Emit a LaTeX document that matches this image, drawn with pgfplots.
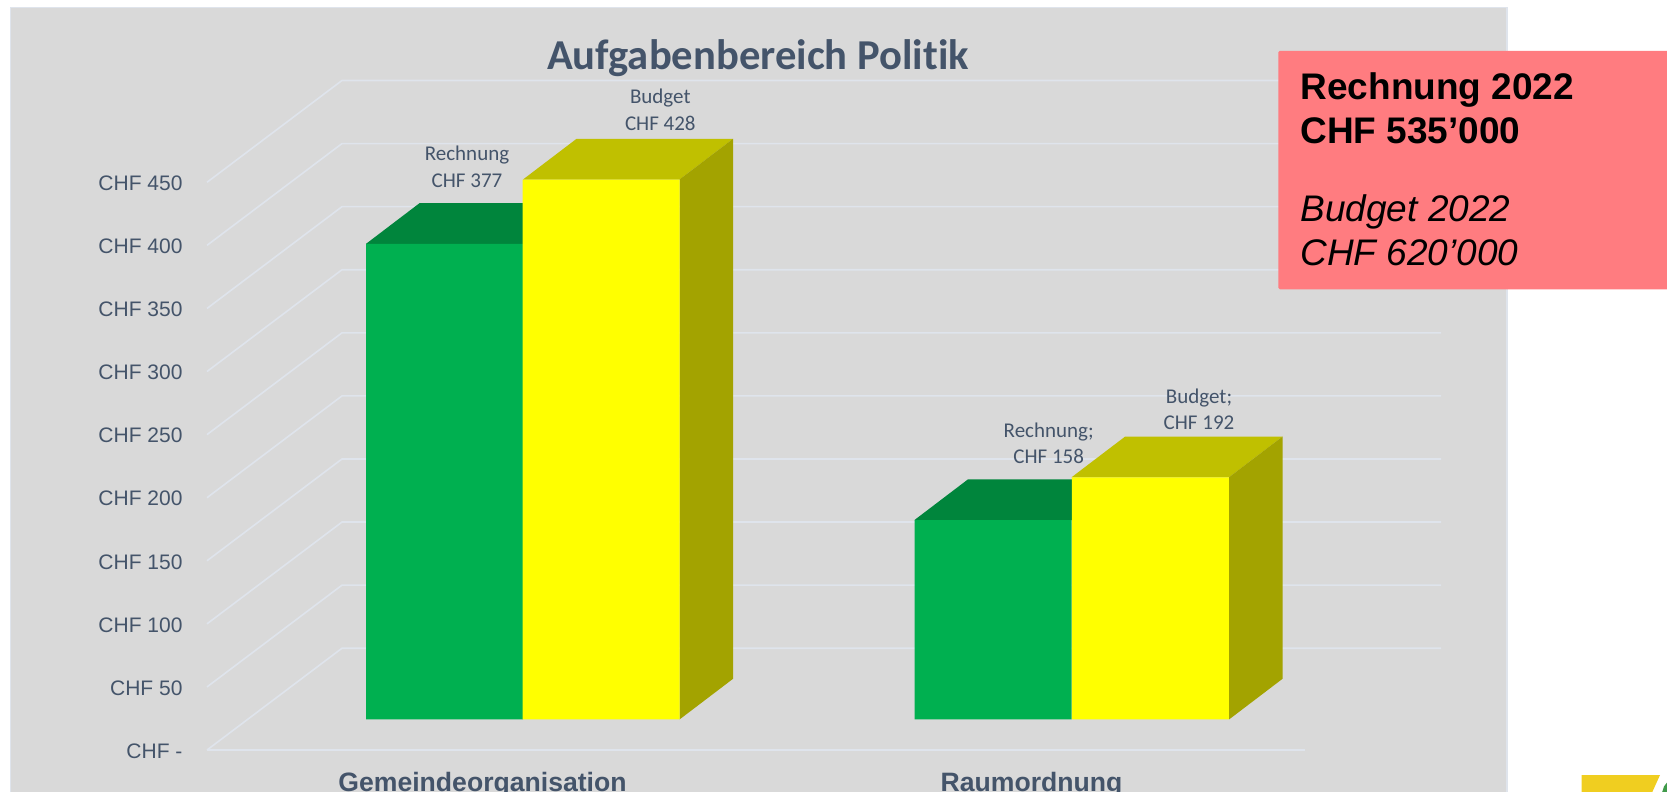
\documentclass[border=0pt]{standalone}
\usepackage{fontspec}
\setmainfont{Liberation Sans}
\newfontfamily\carlito[Ligatures=NoCommon]{Carlito}
\usepackage{pgfplots}
\pgfplotsset{compat=1.18}
\definecolor{panel}{HTML}{D9D9D9}
\definecolor{panelline}{HTML}{DFE4EC}
\definecolor{txt}{HTML}{44546A}
\definecolor{rechnung}{HTML}{00B050}
\definecolor{rechnungtop}{HTML}{00853C}
\definecolor{budget}{HTML}{FFFF00}
\definecolor{budgettop}{HTML}{C0C000}
\definecolor{budgetside}{HTML}{A3A300}
\definecolor{box}{HTML}{FF7C80}
\definecolor{logo}{HTML}{F0CE20}
\definecolor{logogreen}{HTML}{3F9A4A}
\begin{document}
\begin{tikzpicture}
\useasboundingbox (0,0) rectangle (1667pt,792pt);
\clip (0,0) rectangle (1667pt,792pt);
% panel behind everything, so the tick labels stay on top of it
\filldraw[fill=panel, draw=panelline, line width=1.5pt] (10.5pt,-10pt) rectangle (1507pt,784.7pt);
\begin{axis}[
  at={(0,0)}, anchor=south west,
  width=1667pt, height=792pt, scale only axis,
  xmin=0, xmax=1667, ymin=-57.47, ymax=570.3,
  clip=false,
  axis line style={draw=none},
  tick style={draw=none},
  ytick={-24.2,25.8,75.8,125.8,175.8,225.8,275.8,325.8,375.8,425.8},
  yticklabels={CHF -,CHF 50,CHF 100,CHF 150,CHF 200,CHF 250,CHF 300,CHF 350,CHF 400,CHF 450},
  yticklabel style={anchor=east, xshift=186pt, yshift=-1pt, font=\fontsize{21}{21}\selectfont, text=txt},
  xtick={482.5,1031.5},
  xticklabels={Gemeindeorganisation,Raumordnung},
  xticklabel style={anchor=base, yshift=1pt, font=\fontsize{26.6}{26.6}\selectfont\bfseries, text=txt},
]
% back wall lines: front left, back left, back right
\pgfplotsinvokeforeach{-24.2,25.8,75.8,125.8,175.8,225.8,275.8,325.8,375.8,425.8}{
  \addplot[panelline, line width=1.6pt, forget plot] coordinates {(207,#1) (342,#1+80.7) (1441,#1+80.7)};
}
\addplot[panelline, line width=1.6pt, forget plot] coordinates {(207,-24.2) (1305,-24.2)};

% Rechnung
\addplot[fill=rechnungtop, draw=none, forget plot] coordinates {(366,377) (419.6,409.3) (576.6,409.3) (523,377)} -- cycle;
\addplot[fill=rechnungtop, draw=none, forget plot] coordinates {(914.3,158) (967.9,190.3) (1125.2,190.3) (1071.6,158)} -- cycle;
\addplot[ybar, bar width=157pt, bar shift=0pt, fill=rechnung, draw=none] coordinates {(444.5,377) (993,158)};

% Budget
\addplot[fill=budgettop, draw=none, forget plot] coordinates {(523,428) (576.6,460.3) (733.1,460.3) (679.5,428)} -- cycle;
\addplot[fill=budgetside, draw=none, forget plot] coordinates {(679.5,0) (733.1,32.3) (733.1,460.3) (679.5,428)} -- cycle;
\addplot[fill=budgettop, draw=none, forget plot] coordinates {(1071.6,192) (1125.2,224.3) (1282.6,224.3) (1229,192)} -- cycle;
\addplot[fill=budgetside, draw=none, forget plot] coordinates {(1229,0) (1282.6,32.3) (1282.6,224.3) (1229,192)} -- cycle;
\addplot[ybar, bar width=157pt, bar shift=0pt, fill=budget, draw=none] coordinates {(601.2,428) (1150.3,192)};

% title
\node[anchor=base, text=txt, font=\carlito\fontsize{42.6}{42.6}\selectfont\bfseries] at (axis cs:758,515.4) {Aufgabenbereich Politik};

% data labels
\tikzset{dl/.style={text=txt, font=\carlito\fontsize{21}{26.5}\selectfont, align=center}}
\node[dl] at (axis cs:467,438) {Rechnung\\CHF 377};
\node[dl] at (axis cs:660.3,483.3) {Budget\\CHF 428};
\node[dl] at (axis cs:1048.7,219) {Rechnung;\\CHF 158};
\node[dl] at (axis cs:1199,245.8) {Budget;\\CHF 192};

% summary box
\fill[box, rounded corners=1.5pt] (axis cs:1278.3,530) rectangle (axis cs:1700,341);
\tikzset{bx/.style={anchor=base west, text=black}}
\node[bx, font=\fontsize{37}{37}\selectfont\bfseries] at (axis cs:1297,491.3) {Rechnung 2022};
\node[bx, font=\fontsize{37}{37}\selectfont\bfseries] at (axis cs:1297,456.2) {CHF 535’000};
\node[bx, font=\fontsize{37}{37}\selectfont\itshape] at (axis cs:1297,394.9) {Budget 2022};
\node[bx, font=\fontsize{37}{37}\selectfont\itshape] at (axis cs:1297,359.6) {CHF 620’000};

% corner of the logo
\fill[logo] (axis cs:1581.5,-44) -- (axis cs:1660,-44) -- (axis cs:1652,-58) -- (axis cs:1581.5,-58) -- cycle;
\fill[logogreen] (axis cs:1662,-58) -- (axis cs:1664,-53) -- (axis cs:1667,-50) -- (axis cs:1667,-58) -- cycle;
\end{axis}
\end{tikzpicture}
\end{document}
